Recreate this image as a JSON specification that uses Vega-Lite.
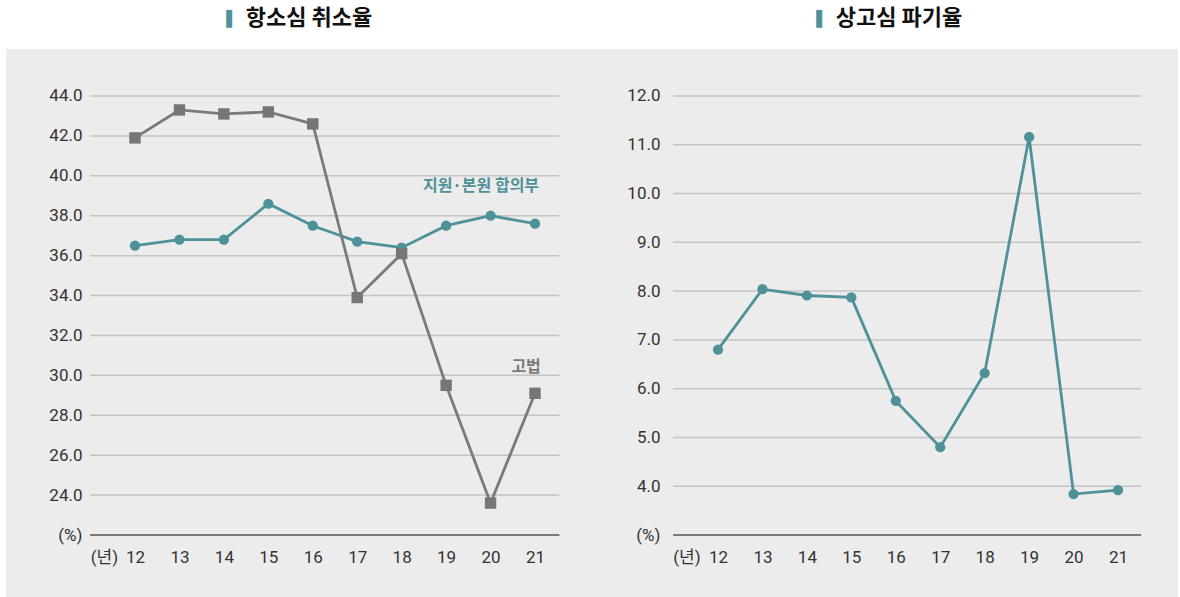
{
  "$schema": "https://vega.github.io/schema/vega-lite/v6.json",
  "background": "white",
  "padding": {"left": 6, "right": 2, "top": 7, "bottom": 0},
  "spacing": 0,
  "config": {
    "view": {"stroke": null, "fill": "#ececec"},
    "font": "Roboto, 'Noto Sans CJK KR'"
  },
  "datasets": {
    "appeal": [
      {"year": 12, "rate": 36.5, "court": "지원·본원 합의부"},
      {"year": 13, "rate": 36.8, "court": "지원·본원 합의부"},
      {"year": 14, "rate": 36.8, "court": "지원·본원 합의부"},
      {"year": 15, "rate": 38.6, "court": "지원·본원 합의부"},
      {"year": 16, "rate": 37.5, "court": "지원·본원 합의부"},
      {"year": 17, "rate": 36.7, "court": "지원·본원 합의부"},
      {"year": 18, "rate": 36.4, "court": "지원·본원 합의부"},
      {"year": 19, "rate": 37.5, "court": "지원·본원 합의부"},
      {"year": 20, "rate": 38.0, "court": "지원·본원 합의부"},
      {"year": 21, "rate": 37.6, "court": "지원·본원 합의부"},
      {"year": 12, "rate": 41.9, "court": "고법"},
      {"year": 13, "rate": 43.3, "court": "고법"},
      {"year": 14, "rate": 43.1, "court": "고법"},
      {"year": 15, "rate": 43.2, "court": "고법"},
      {"year": 16, "rate": 42.6, "court": "고법"},
      {"year": 17, "rate": 33.9, "court": "고법"},
      {"year": 18, "rate": 36.1, "court": "고법"},
      {"year": 19, "rate": 29.5, "court": "고법"},
      {"year": 20, "rate": 23.6, "court": "고법"},
      {"year": 21, "rate": 29.1, "court": "고법"}
    ],
    "supreme": [
      {"year": 12, "rate": 6.8},
      {"year": 13, "rate": 8.04},
      {"year": 14, "rate": 7.91},
      {"year": 15, "rate": 7.87},
      {"year": 16, "rate": 5.75},
      {"year": 17, "rate": 4.8},
      {"year": 18, "rate": 6.32},
      {"year": 19, "rate": 11.16},
      {"year": 20, "rate": 3.84},
      {"year": 21, "rate": 3.92}
    ],
    "grid1": [{"v": 24}, {"v": 26}, {"v": 28}, {"v": 30}, {"v": 32}, {"v": 34}, {"v": 36}, {"v": 38}, {"v": 40}, {"v": 42}, {"v": 44}],
    "grid2": [{"v": 4}, {"v": 5}, {"v": 6}, {"v": 7}, {"v": 8}, {"v": 9}, {"v": 10}, {"v": 11}, {"v": 12}]
  },
  "hconcat": [
    {
      "width": 586,
      "height": 549,
      "title": {
        "text": "항소심 취소율",
        "font": "Noto Sans CJK KR",
        "fontSize": 22,
        "fontWeight": "bold",
        "color": "#111111",
        "anchor": "middle",
        "dx": 10,
        "offset": 19,
        "subtitle": "▌\u2800\u2800\u2800\u2800\u2800\u2800\u2800\u2800\u2800\u2800\u2800\u2800\u2800\u2800",
        "subtitleFont": "DejaVu Sans",
        "subtitleFontSize": 15,
        "subtitleColor": "#4e9199",
        "subtitlePadding": -18
      },
      "layer": [
        {
          "data": {"name": "grid1"},
          "mark": {"type": "rule", "color": "#c4c4c4", "strokeWidth": 1.5},
          "encoding": {
            "y": {
              "field": "v", "type": "quantitative",
              "scale": {"domain": [18.843, 46.355], "nice": false, "zero": false},
              "axis": {
                "values": [22, 24, 26, 28, 30, 32, 34, 36, 38, 40, 42, 44],
                "labelExpr": "datum.value == 22 ? '(%)' : format(datum.value, '.1f')",
                "grid": false, "domain": false, "ticks": false,
                "offset": -84, "labelPadding": 8,
                "labelFontSize": 17, "labelColor": "#333333",
                "labelFont": "Roboto, 'Noto Sans CJK KR'",
                "title": null
              }
            },
            "x": {
              "datum": 10.99, "type": "quantitative",
              "scale": {"domain": [9.0975, 22.2825], "nice": false, "zero": false},
              "axis": {
                "values": [11.3, 12, 13, 14, 15, 16, 17, 18, 19, 20, 21],
                "labelExpr": "datum.value < 12 ? '(년)' : format(datum.value, 'd')",
                "grid": false, "domain": false, "ticks": false,
                "offset": -63, "labelPadding": 14,
                "labelOverlap": false, "labelFlush": false,
                "labelFontSize": 17, "labelColor": "#333333",
                "labelFont": "Roboto, 'Noto Sans CJK KR'",
                "title": null
              }
            },
            "x2": {"datum": 21.55}
          }
        },
        {
          "data": {"values": [{}]},
          "mark": {"type": "rule", "color": "#7a7a7a", "strokeWidth": 2.2},
          "encoding": {
            "y": {"datum": 22, "type": "quantitative"},
            "x": {"datum": 10.99, "type": "quantitative"},
            "x2": {"datum": 21.55}
          }
        },
        {
          "data": {"name": "appeal"},
          "transform": [{"filter": "datum.court == '지원·본원 합의부'"}],
          "mark": {"type": "line", "color": "#4e9199", "strokeWidth": 2.8},
          "encoding": {
            "x": {"field": "year", "type": "quantitative"},
            "y": {"field": "rate", "type": "quantitative"}
          }
        },
        {
          "data": {"name": "appeal"},
          "transform": [{"filter": "datum.court == '지원·본원 합의부'"}],
          "mark": {"type": "point", "shape": "circle", "filled": true, "color": "#4e9199", "size": 105, "opacity": 1},
          "encoding": {
            "x": {"field": "year", "type": "quantitative"},
            "y": {"field": "rate", "type": "quantitative"}
          }
        },
        {
          "data": {"name": "appeal"},
          "transform": [{"filter": "datum.court == '고법'"}],
          "mark": {"type": "line", "color": "#7a7a7a", "strokeWidth": 2.8},
          "encoding": {
            "x": {"field": "year", "type": "quantitative"},
            "y": {"field": "rate", "type": "quantitative"}
          }
        },
        {
          "data": {"name": "appeal"},
          "transform": [{"filter": "datum.court == '고법'"}],
          "mark": {"type": "point", "shape": "square", "filled": true, "color": "#767676", "size": 130, "opacity": 1},
          "encoding": {
            "x": {"field": "year", "type": "quantitative"},
            "y": {"field": "rate", "type": "quantitative"}
          }
        },
        {
          "data": {"values": [{}]},
          "mark": {"type": "text", "font": "Noto Sans CJK KR", "fontWeight": "bold", "fontSize": 16, "color": "#4e9199", "align": "center", "baseline": "middle"},
          "encoding": {
            "x": {"datum": 19.785, "type": "quantitative"},
            "y": {"datum": 39.49, "type": "quantitative"},
            "text": {"value": "지원·본원 합의부"}
          }
        },
        {
          "data": {"values": [{}]},
          "mark": {"type": "text", "font": "Noto Sans CJK KR", "fontWeight": "bold", "fontSize": 16, "color": "#7a7a7a", "align": "center", "baseline": "middle"},
          "encoding": {
            "x": {"datum": 20.8, "type": "quantitative"},
            "y": {"datum": 30.42, "type": "quantitative"},
            "text": {"value": "고법"}
          }
        }
      ]
    },
    {
      "width": 586,
      "height": 549,
      "title": {
        "text": "상고심 파기율",
        "font": "Noto Sans CJK KR",
        "fontSize": 22,
        "fontWeight": "bold",
        "color": "#111111",
        "anchor": "middle",
        "dx": 14,
        "offset": 19,
        "subtitle": "▌\u2800\u2800\u2800\u2800\u2800\u2800\u2800\u2800\u2800\u2800\u2800\u2800\u2800\u2800",
        "subtitleFont": "DejaVu Sans",
        "subtitleFontSize": 15,
        "subtitleColor": "#4e9199",
        "subtitlePadding": -18
      },
      "layer": [
        {
          "data": {"name": "grid2"},
          "mark": {"type": "rule", "color": "#c4c4c4", "strokeWidth": 1.5},
          "encoding": {
            "y": {
              "field": "v", "type": "quantitative",
              "scale": {"domain": [1.7085, 12.9635], "nice": false, "zero": false},
              "axis": {
                "values": [3, 4, 5, 6, 7, 8, 9, 10, 11, 12],
                "labelExpr": "datum.value == 3 ? '(%)' : format(datum.value, '.1f')",
                "grid": false, "domain": false, "ticks": false,
                "offset": -81, "labelPadding": 13,
                "labelFontSize": 17, "labelColor": "#333333",
                "labelFont": "Roboto, 'Noto Sans CJK KR'",
                "title": null
              }
            },
            "x": {
              "datum": 10.99, "type": "quantitative",
              "scale": {"domain": [9.165, 22.35], "nice": false, "zero": false},
              "axis": {
                "values": [11.29, 12, 13, 14, 15, 16, 17, 18, 19, 20, 21],
                "labelExpr": "datum.value < 12 ? '(년)' : format(datum.value, 'd')",
                "grid": false, "domain": false, "ticks": false,
                "offset": -63, "labelPadding": 14,
                "labelOverlap": false, "labelFlush": false,
                "labelFontSize": 17, "labelColor": "#333333",
                "labelFont": "Roboto, 'Noto Sans CJK KR'",
                "title": null
              }
            },
            "x2": {"datum": 21.52}
          }
        },
        {
          "data": {"values": [{}]},
          "mark": {"type": "rule", "color": "#7a7a7a", "strokeWidth": 2.2},
          "encoding": {
            "y": {"datum": 3, "type": "quantitative"},
            "x": {"datum": 10.99, "type": "quantitative"},
            "x2": {"datum": 21.52}
          }
        },
        {
          "data": {"name": "supreme"},
          "mark": {"type": "line", "color": "#4e9199", "strokeWidth": 2.8},
          "encoding": {
            "x": {"field": "year", "type": "quantitative"},
            "y": {"field": "rate", "type": "quantitative"}
          }
        },
        {
          "data": {"name": "supreme"},
          "mark": {"type": "point", "shape": "circle", "filled": true, "color": "#4e9199", "size": 105, "opacity": 1},
          "encoding": {
            "x": {"field": "year", "type": "quantitative"},
            "y": {"field": "rate", "type": "quantitative"}
          }
        }
      ]
    }
  ]
}
